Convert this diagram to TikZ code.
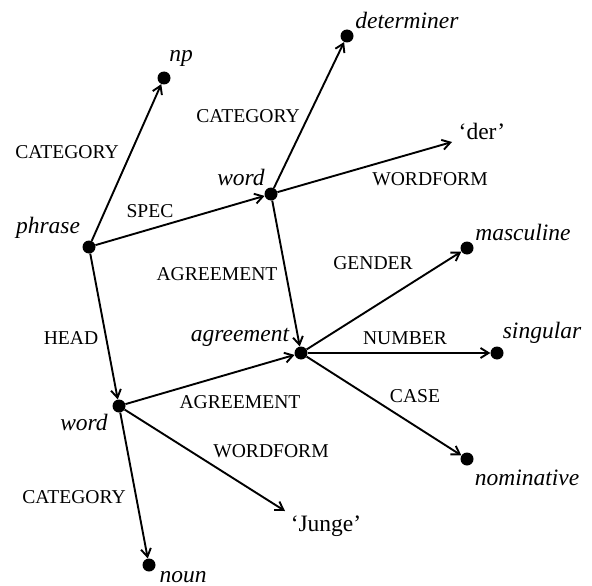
\documentclass[tikz,border=0pt]{standalone}
\usepackage{fontspec}
\setmainfont{Liberation Serif}
\usetikzlibrary{arrows.meta}
\tikzset{
  dot/.style={circle,fill=black,minimum size=13pt,inner sep=0pt},
  arr/.style={line width=1.9pt,-{Straight Barb[length=8pt,width=10pt,line width=1.9pt]}},
  val/.style={inner sep=0pt,font=\fontsize{23.5}{28}\selectfont\itshape},
  str/.style={inner sep=0pt,font=\fontsize{23.5}{28}\selectfont},
  feat/.style={inner sep=0pt,font=\fontsize{19.6}{23}\selectfont},
}
\begin{document}
\begin{tikzpicture}[x=1pt,y=-1pt]
\useasboundingbox (0,0) rectangle (592,586);
% dots
\node[dot] (phrase) at (89,247) {};
\node[dot] (np) at (164,78) {};
\node[dot] (w1) at (271,194) {};
\node[dot] (det) at (347,36) {};
\coordinate (derend) at (452,142);
\node[dot] (agr) at (301,353) {};
\node[dot] (masc) at (467,248) {};
\node[dot] (sing) at (497,353) {};
\node[dot] (nom) at (467,459) {};
\node[dot] (w2) at (119,406) {};
\coordinate (jungeend) at (285,511);
\node[dot] (noun) at (149,565) {};
% value labels
\node[val] (lphrase) at (48,228) {phrase};
\node[val] (lnp) at (181,58) {np};
\node[val] (lw1) at (241,177) {word};
\node[val] (ldet) at (407,20) {determiner};
\node[str] (lder) at (482,131) {‘der’};
\node[val] (lagr) at (240,337) {agreement};
\node[val] (lmasc) at (523,232) {masculine};
\node[val] (lsing) at (542,333) {singular};
\node[val] (lnom) at (527,478) {nominative};
\node[val] (lw2) at (84,422) {word};
\node[str] (ljunge) at (326,526) {‘Junge’};
\node[val] (lnoun) at (183,577) {noun};
% arrows
\draw[arr] (phrase) -- (np);
\draw[arr] (phrase) -- (w1);
\draw[arr] (phrase) -- (w2);
\draw[arr] (w1) -- (det);
\draw[arr] (w1) -- (derend);
\draw[arr] (w1) -- (agr);
\draw[arr] (agr) -- (masc);
\draw[arr] (agr) -- (sing);
\draw[arr] (agr) -- (nom);
\draw[arr] (w2) -- (agr);
\draw[arr] (w2) -- (jungeend);
\draw[arr] (w2) -- (noun);
% feature labels
\node[feat] (f1) at (67,152) {CATEGORY};
\node[feat] (f2) at (150,211) {SPEC};
\node[feat] (f3) at (71,338) {HEAD};
\node[feat] (f4) at (248,116) {CATEGORY};
\node[feat] (f5) at (430,179) {WORDFORM};
\node[feat] (f6) at (217,274) {AGREEMENT};
\node[feat] (f7) at (373,263) {GENDER};
\node[feat] (f8) at (405,338) {NUMBER};
\node[feat] (f9) at (415,396) {CASE};
\node[feat] (f10) at (240,402) {AGREEMENT};
\node[feat] (f11) at (271,451) {WORDFORM};
\node[feat] (f12) at (74,497) {CATEGORY};
\end{tikzpicture}
\end{document}
